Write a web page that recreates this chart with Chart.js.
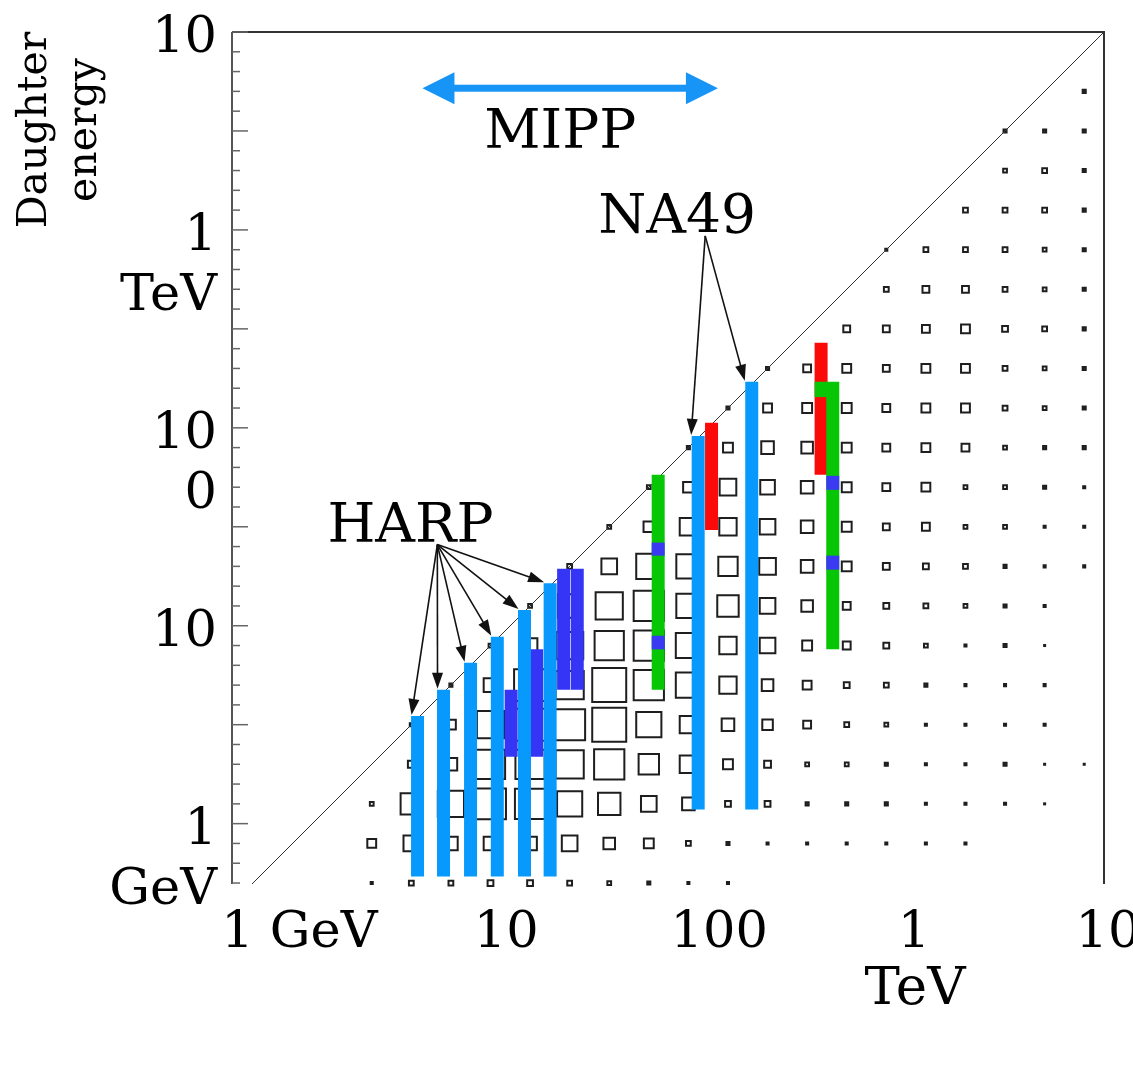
<!DOCTYPE html>
<html>
<head>
<meta charset="utf-8">
<script src="https://cdn.jsdelivr.net/npm/chart.js@4.4.0/dist/chart.umd.min.js"></script>
<style>
  html, body { margin: 0; padding: 0; background: #fff; }
  #wrap { width: 1133px; height: 1082px; position: relative; }
</style>
</head>
<body>
<div id="wrap"><canvas id="fluxChart"></canvas></div>
<script>
// bin centres, log10(GeV)
const parentLog = [0.3, 0.5, 0.7, 0.9, 1.1, 1.3, 1.5, 1.7, 1.9, 2.1, 2.3, 2.5, 2.7, 2.9, 3.1, 3.3, 3.5, 3.7, 3.9];
const daughterLog = [-0.3, -0.1, 0.1, 0.3, 0.5, 0.7, 0.9, 1.1, 1.3, 1.5, 1.7, 1.9, 2.1, 2.3, 2.5, 2.7, 2.9, 3.1, 3.3, 3.5, 3.7, 3.9];

// relative yield (% of peak), one row per parent bin, daughter bins from the bottom up
const yieldGrid = [
  [6, 26, 11],
  [14, 46, 63, 20, 9],
  [14, 40, 77, 37, 29, 9],
  [17, 40, 91, 86, 80, 40, 11],
  [17, 40, 89, 86, 94, 94, 43, 11],
  [14, 46, 74, 83, 91, 83, 80, 69, 14],
  [11, 34, 66, 89, 100, 100, 86, 80, 46, 11],
  [9, 29, 46, 60, 74, 89, 89, 89, 74, 31, 11],
  [6, 14, 37, 51, 51, 74, 74, 71, 71, 51, 31, 9],
  [6, 9, 17, 29, 37, 51, 51, 63, 57, 51, 49, 29, 9],
  [0, 6, 17, 20, 31, 34, 46, 46, 49, 46, 43, 37, 26, 9],
  [0, 6, 9, 11, 23, 26, 29, 34, 37, 37, 37, 34, 29, 23, 0],
  [0, 6, 9, 11, 14, 17, 23, 23, 29, 29, 29, 29, 29, 26, 20, 0],
  [0, 6, 9, 9, 11, 14, 17, 17, 20, 20, 23, 23, 23, 20, 20, 14, 6],
  [0, 6, 6, 6, 6, 9, 11, 14, 17, 23, 26, 26, 26, 26, 23, 20, 14, 0],
  [0, 6, 6, 6, 6, 6, 6, 11, 14, 11, 11, 23, 26, 26, 26, 20, 14, 14, 0],
  [0, 0, 6, 9, 6, 6, 9, 9, 9, 11, 11, 11, 14, 14, 17, 14, 14, 14, 11, 9],
  [0, 0, 3, 3, 6, 6, 3, 6, 6, 6, 9, 9, 11, 11, 14, 11, 11, 14, 14, 9, 0],
  [0, 0, 0, 3, 0, 0, 0, 0, 6, 6, 6, 9, 9, 9, 9, 9, 9, 9, 9, 9, 9, 0]
];

// measurements: [beam GeV, daughter low GeV, daughter high GeV]
const harpBars = [[3.4, 0.54, 3.5], [4.6, 0.54, 4.75], [6.3, 0.54, 6.5], [8.6, 0.54, 8.8], [11.8, 0.54, 12.0], [15.9, 0.54, 16.4]];
const na49Bars = [[89, 1.18, 91], [166, 1.18, 171]];
const violetBars = [[10.1, 2.18, 4.75], [13.6, 2.18, 7.6], [18.6, 4.75, 19.4], [21.8, 4.75, 19.4]];
const redBars = [[104, 30.5, 106], [372, 57.9, 269]];
const greenBars = [[55.9, 4.75, 57.9], [426, 7.6, 171], [372, 143, 171]];
const bluePatches = [[55.9, 22.6, 26.3], [55.9, 7.6, 8.9], [426, 48.6, 57.2], [426, 19.2, 22.6]];
const mippRange = [3.6, 112];

// axis labels
const xTickValues = [1, 10, 100, 1000, 10000];
const xTickLabels = ['1 GeV', '10', '100', '1', '10'];
const yTickValues = [10000, 1000, 100, 10, 1];
const yTickLabels = [['10'], ['1', 'TeV'], ['10', '0'], ['10'], ['1', 'GeV']];

const X_MIN = 0.3926;
const Y_MIN = 0.4955;
const LIGHT_BLUE = '#0799fb';
const FONT = '"DejaVu Serif", serif';
const X_LABEL_NUDGE = [-13, -4, 11, 8, 4];

const cells = [];
yieldGrid.forEach((row, k) => {
  row.forEach((v, m) => {
    if (v > 0) cells.push({ x: 10 ** parentLog[k], y: 10 ** daughterLog[m], v: v });
  });
});

function barSet(rows, color, order) {
  return rows.map(([e, lo, hi]) => ({
    type: 'line',
    data: [{ x: e, y: lo }, { x: e, y: hi }],
    borderColor: color,
    borderWidth: 13,
    borderCapStyle: 'butt',
    pointRadius: 0,
    order: order,
    clip: false
  }));
}

const datasets = [
  {
    label: 'yield',
    data: cells,
    pointStyle: 'rect',
    pointRadius: c => (c.raw.v * 0.34) / Math.SQRT2,
    pointBorderWidth: 2,
    pointBorderColor: '#1e1e1e',
    pointBackgroundColor: c => (c.raw.v < 10 ? '#333' : 'rgba(0,0,0,0)'),
    order: 6,
    clip: false
  },
  {
    type: 'line',
    label: 'E_d = E_p',
    data: [{ x: Y_MIN, y: Y_MIN }, { x: 10000, y: 10000 }],
    borderColor: '#333',
    borderWidth: 1,
    pointRadius: 0,
    order: 5
  },
  ...barSet(harpBars, LIGHT_BLUE, 3),
  ...barSet(na49Bars, LIGHT_BLUE, 3),
  ...barSet(violetBars, '#3535f5', 3),
  ...barSet(redBars, '#fb0a0a', 3),
  ...barSet(greenBars, '#06c606', 2),
  ...barSet(bluePatches, '#3a3af2', 1)
];

function drawArrow(c, x0, y0, x1, y1, len, wid) {
  const a = Math.atan2(y1 - y0, x1 - x0);
  c.beginPath();
  c.moveTo(x0, y0);
  c.lineTo(x1 - Math.cos(a) * len * 0.7, y1 - Math.sin(a) * len * 0.7);
  c.stroke();
  c.beginPath();
  c.moveTo(x1, y1);
  c.lineTo(x1 - len * Math.cos(a) + (wid / 2) * Math.sin(a), y1 - len * Math.sin(a) - (wid / 2) * Math.cos(a));
  c.lineTo(x1 - len * Math.cos(a) - (wid / 2) * Math.sin(a), y1 - len * Math.sin(a) + (wid / 2) * Math.cos(a));
  c.closePath();
  c.fill();
}

const framePlugin = {
  id: 'frame',
  afterDraw(chart) {
    const c = chart.ctx;
    const xs = chart.scales.x, ys = chart.scales.y;
    const { left, right, top, bottom } = chart.chartArea;
    c.save();

    // frame: left axis, top and right borders
    c.strokeStyle = '#555';
    c.lineWidth = 2;
    c.beginPath();
    c.moveTo(left, bottom);
    c.lineTo(left, top);
    c.stroke();
    c.strokeStyle = '#333';
    c.beginPath();
    c.moveTo(left, top);
    c.lineTo(right, top);
    c.lineTo(right, bottom);
    c.stroke();

    // inward ticks every 0.1 decade, long ones every half decade
    c.strokeStyle = '#666';
    c.lineWidth = 1.5;
    for (let i = -3; i <= 40; i++) {
      const py = ys.getPixelForValue(10 ** (i / 10));
      const len = i % 5 === 0 ? 16 : 8;
      c.beginPath();
      c.moveTo(left, py);
      c.lineTo(left + len, py);
      c.stroke();
    }

    // tick labels
    c.fillStyle = '#000';
    c.font = '51px ' + FONT;
    c.textBaseline = 'alphabetic';
    c.textAlign = 'center';
    xTickValues.forEach((v, i) => {
      c.fillText(xTickLabels[i], xs.getPixelForValue(v) + X_LABEL_NUDGE[i], bottom + 63);
    });
    c.textAlign = 'right';
    yTickValues.forEach((v, i) => {
      const py = ys.getPixelForValue(v) + 2;
      yTickLabels[i].forEach((t, j) => c.fillText(t, 217, py + 18 + j * 60));
    });

    // axis titles
    c.textAlign = 'center';
    c.font = '53px ' + FONT;
    c.fillText('TeV', 915, 1004);
    c.font = '41px ' + FONT;
    c.save();
    c.translate(0, 130);
    c.rotate(-Math.PI / 2);
    c.fillText('Daughter', 0, 46);
    c.fillText('energy', 0, 96);
    c.restore();

    // MIPP double arrow
    const my = ys.getPixelForValue(5200);
    const mx0 = xs.getPixelForValue(mippRange[0]);
    const mx1 = xs.getPixelForValue(mippRange[1]);
    c.fillStyle = '#1795f7';
    c.fillRect(mx0 + 28, my - 3.5, mx1 - mx0 - 56, 7);
    c.beginPath();
    c.moveTo(mx0, my); c.lineTo(mx0 + 32, my - 16); c.lineTo(mx0 + 32, my + 16); c.closePath();
    c.moveTo(mx1, my); c.lineTo(mx1 - 32, my - 16); c.lineTo(mx1 - 32, my + 16); c.closePath();
    c.fill();

    // experiment labels
    c.fillStyle = '#000';
    c.font = '55px ' + FONT;
    c.fillText('MIPP', xs.getPixelForValue(17.9), ys.getPixelForValue(3273) + 20);
    c.fillText('NA49', xs.getPixelForValue(69.7), ys.getPixelForValue(1219) + 20);
    c.fillText('HARP', xs.getPixelForValue(3.13), ys.getPixelForValue(33.5) + 20);

    // pointer arrows
    c.strokeStyle = '#111';
    c.fillStyle = '#111';
    c.lineWidth = 1.6;
    const hx = xs.getPixelForValue(4.28), hy = ys.getPixelForValue(25.7);
    harpBars.forEach(([e, lo, hi]) => {
      drawArrow(c, hx, hy, xs.getPixelForValue(e) - 6, ys.getPixelForValue(hi) - 1, 16, 11);
    });
    const nx = xs.getPixelForValue(96.6), ny = ys.getPixelForValue(933);
    na49Bars.forEach(([e, lo, hi]) => {
      drawArrow(c, nx, ny, xs.getPixelForValue(e) - 7, ys.getPixelForValue(hi) - 1, 16, 11);
    });

    c.restore();
  }
};

const ctx = document.getElementById('fluxChart').getContext('2d');
new Chart(ctx, {
  type: 'scatter',
  data: { datasets: datasets },
  options: {
    responsive: true,
    maintainAspectRatio: false,
    animation: false,
    layout: { padding: { left: 232, right: 29, top: 32, bottom: 198 } },
    scales: {
      x: { type: 'logarithmic', min: X_MIN, max: 10000, display: false },
      y: { type: 'logarithmic', min: Y_MIN, max: 10000, display: false }
    },
    plugins: {
      legend: { display: false },
      tooltip: { enabled: false }
    }
  },
  plugins: [framePlugin]
});
</script>
</body>
</html>
